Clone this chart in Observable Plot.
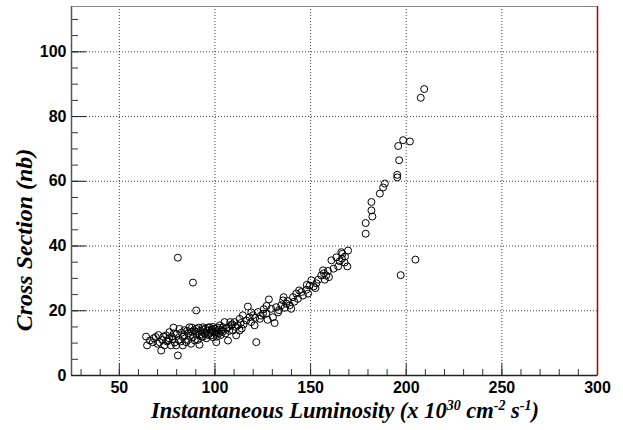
<!DOCTYPE html>
<html>
<head>
<meta charset="utf-8">
<script src="https://cdn.jsdelivr.net/npm/d3@7"></script>
<script src="https://cdn.jsdelivr.net/npm/@observablehq/plot@0.6"></script>
<style>
  html, body { margin: 0; padding: 0; background: #fff; }
</style>
</head>
<body>
<div id="chart"></div>
<script>
// Instantaneous luminosity (x 10^30 cm^-2 s^-1)
const lumi = [
  64, 64.5, 66, 67.5, 68, 69, 70, 71, 71.9, 72.5, 73.6, 74.5, 75, 75.4, 76.2, 77, 77.5, 78, 78.3, 79,
  79.7, 80, 80.6, 81.4, 82, 82.5, 83.2, 83.2, 84, 84.9, 85.5, 86, 86.7, 87, 87.5, 88, 88.5, 89, 89.5, 90.2,
  90.5, 91, 91.9, 92.5, 93, 93.7, 93.7, 94.5, 95, 95.5, 96, 96.5, 97.1, 97.5, 98, 98.5, 99, 99.5, 100, 100.7,
  100.7, 101, 101.5, 102, 102.5, 103, 103.5, 104.2, 105, 105.5, 106.8, 107, 108, 108.5, 109.4, 110.2, 111.1, 111, 112, 112.9,
  112.9, 114.6, 115, 116.4, 117.2, 118.1, 118.9, 119.9, 120.7, 121.6, 122.5, 123.5, 124, 125.1, 126.8, 127.5, 128.2, 129.4, 130.3, 131.2,
  132, 133, 134.7, 135.6, 135.9, 136.4, 137.3, 139.1, 139.9, 140.8, 142.5, 143.4, 145.2, 146, 147.8, 148.7, 149.5, 150.4, 151.6, 153,
  155.6, 156.5, 157.4, 158.2, 159.1, 159.6, 160.9, 164.4, 165.2, 166.1, 166.4, 167.8, 169.2, 169.6, 166.6,
  178.8, 178.8, 181.8, 181.8, 182.3, 186.2, 187.9, 188.8, 195.3, 195.3, 196.3, 195.8, 198.4, 201.9, 207.6, 209.4, 204.8, 197.1,
  80.6, 88.5, 90.2,
  84, 86, 88, 90, 91.5, 92, 94, 95, 96.5, 98, 99, 100.5, 102, 104, 106, 107.5, 109, 113.5, 114, 119,
  121, 125.5, 127, 133.5, 138, 141.5, 144, 148, 152.5, 154, 157, 162, 163.5, 168,
  70.5, 73, 76, 78.5, 81
];
// Cross section (nb)
const xsec = [
  12.0, 9.3, 10.8, 10.3, 11.5, 11.9, 9.8, 10.3, 7.7, 11.0, 9.3, 12.4, 10.5, 10.8, 13.4, 9.3, 12.0, 11.3, 14.8, 10.2,
  9.3, 12.8, 6.2, 14.4, 10.5, 13.2, 9.3, 11.9, 12.5, 10.3, 13.8, 11.0, 14.9, 12.3, 9.8, 13.5, 11.9, 14.0, 10.8, 14.4,
  12.8, 11.0, 9.5, 13.8, 12.0, 14.9, 11.9, 13.0, 14.5, 11.5, 13.8, 12.5, 14.9, 13.2, 12.4, 14.2, 11.8, 13.5, 14.5, 10.3,
  13.4, 12.0, 14.8, 13.0, 15.5, 12.5, 14.0, 14.9, 16.5, 13.0, 10.8, 15.0, 16.5, 15.5, 13.9, 16.5, 12.4, 15.0, 15.5, 13.9,
  17.5, 18.6, 15.8, 17.0, 21.3, 18.0, 16.5, 18.6, 15.5, 10.3, 19.6, 17.5, 18.5, 19.1, 19.1, 17.2, 23.5, 20.6, 18.0, 16.2,
  21.1, 19.5, 21.7, 23.2, 24.2, 20.9, 22.2, 21.7, 20.6, 24.2, 25.3, 23.7, 25.8, 24.7, 26.5, 25.3, 27.8, 29.4, 27.5, 28.5,
  30.9, 32.5, 29.6, 30.9, 32.3, 30.4, 35.6, 33.7, 35.3, 38.1, 36.1, 34.9, 33.7, 38.6, 37.6,
  47.1, 43.8, 53.6, 51.0, 49.1, 56.2, 58.1, 59.3, 62.0, 61.2, 66.5, 70.9, 72.7, 72.3, 85.8, 88.5, 35.8, 31.0,
  36.4, 28.7, 20.1,
  14.0, 13.0, 14.8, 13.5, 14.8, 12.5, 14.2, 12.8, 14.8, 13.8, 15.0, 12.8, 14.2, 13.5, 14.5, 13.8, 15.8, 16.2, 14.5, 19.5,
  17.8, 20.5, 21.5, 20.2, 23.0, 22.8, 26.3, 28.0, 27.0, 29.6, 31.6, 33.0, 36.5, 36.8,
  12.5, 12.0, 11.5, 13.0, 11.0
];

const xMajor = [50, 100, 150, 200, 250, 300];
const xGrid = [50, 100, 150, 200, 250];
const xMinor = d3.range(30, 300, 10);
const yMajor = [0, 20, 40, 60, 80, 100];
const yGrid = [20, 40, 60, 80, 100];
const yMinor = d3.range(5, 114, 5);

const data = lumi.map((x, i) => ({x, y: xsec[i]}));

const W = 623, H = 430, mL = 71, mR = 26, mT = 6, mB = 55;
const fw = W - mL - mR, fh = H - mT - mB;

const chart = Plot.plot({
  width: W, height: H,
  marginLeft: mL, marginRight: mR, marginTop: mT, marginBottom: mB,
  x: {domain: [25, 300]},
  y: {domain: [0, 114]},
  style: {background: "white", fontFamily: "'Liberation Sans', Arial, sans-serif", color: "black"},
  marks: [
    Plot.gridX(xGrid, {stroke: "#000", strokeOpacity: 0.75, strokeDasharray: "1,2"}),
    Plot.gridY(yGrid, {stroke: "#000", strokeOpacity: 0.75, strokeDasharray: "1,2"}),
    Plot.dot(data, {x: "x", y: "y", r: 3.5, stroke: "black", strokeWidth: 1, fill: "none"}),
    Plot.tickX(xMinor, {x: d => d, insetTop: fh - 6, stroke: "#333"}),
    Plot.tickX(xMajor, {x: d => d, insetTop: fh - 12, stroke: "#333"}),
    Plot.tickY(yMinor, {y: d => d, insetRight: fw - 7, stroke: "#333"}),
    Plot.tickY(yMajor, {y: d => d, insetRight: fw - 15, stroke: "#222"}),
    Plot.frame({stroke: "#888"}),
    Plot.ruleX([25], {stroke: "#555", strokeWidth: 1.5}),
    Plot.ruleY([0], {stroke: "#222", strokeWidth: 1.5}),
    Plot.ruleX([300], {stroke: "#b00000", strokeWidth: 1.5}),
    Plot.axisX(xMajor, {tickSize: 0, tickPadding: 6, fontSize: 16, fontWeight: "bold", label: null}),
    Plot.axisY(yMajor, {tickSize: 0, tickPadding: 5, fontSize: 16, fontWeight: "bold", label: null})
  ]
});

const svg = d3.select(chart);
const tf = "'Liberation Serif', 'Times New Roman', serif";
const xt = svg.append("text")
  .attr("x", 345).attr("y", 418)
  .attr("text-anchor", "middle")
  .attr("font-family", tf).attr("font-weight", "bold").attr("font-style", "italic")
  .attr("font-size", 22.5).attr("fill", "black");
xt.append("tspan").text("Instantaneous Luminosity (x 10");
xt.append("tspan").attr("dy", -8).attr("font-size", 14).text("30");
xt.append("tspan").attr("dy", 8).text(" cm");
xt.append("tspan").attr("dy", -8).attr("font-size", 14).text("-2");
xt.append("tspan").attr("dy", 8).text(" s");
xt.append("tspan").attr("dy", -8).attr("font-size", 14).text("-1");
xt.append("tspan").attr("dy", 8).text(")");

svg.append("text")
  .attr("transform", "translate(32,240) rotate(-90)")
  .attr("text-anchor", "middle")
  .attr("font-family", tf).attr("font-weight", "bold").attr("font-style", "italic")
  .attr("font-size", 24).attr("fill", "black")
  .text("Cross Section (nb)");

document.getElementById("chart").appendChild(chart);
</script>
</body>
</html>
